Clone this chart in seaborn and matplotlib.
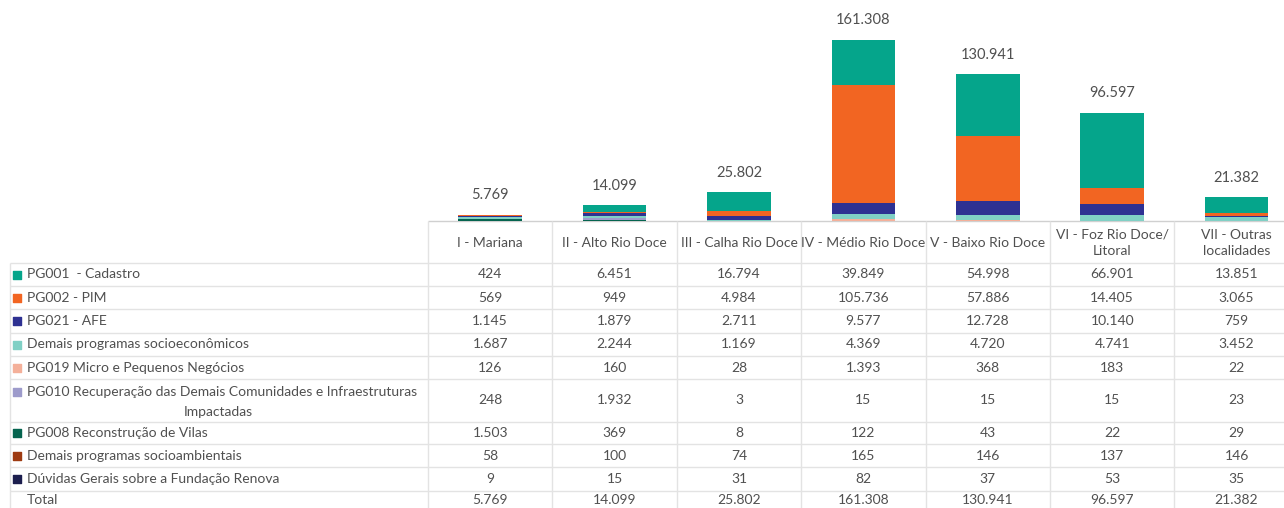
import numpy as np
import pandas as pd
import matplotlib
matplotlib.use('Agg')
import matplotlib.pyplot as plt
import seaborn as sns

regioes = ['I - Mariana', 'II - Alto Rio Doce', 'III - Calha Rio Doce', 'IV - Médio Rio Doce',
           'V - Baixo Rio Doce', 'VI - Foz Rio Doce/\nLitoral', 'VII - Outras\nlocalidades']

programas = ['PG001  - Cadastro', 'PG002 - PIM', 'PG021 - AFE', 'Demais programas socioeconômicos',
             'PG019 Micro e Pequenos Negócios',
             'PG010 Recuperação das Demais Comunidades e Infraestruturas\nImpactadas',
             'PG008 Reconstrução de Vilas', 'Demais programas socioambientais',
             'Dúvidas Gerais sobre a Fundação Renova']

cadastro = [424, 6451, 16794, 39849, 54998, 66901, 13851]
pim = [569, 949, 4984, 105736, 57886, 14405, 3065]
afe = [1145, 1879, 2711, 9577, 12728, 10140, 759]
socioeco = [1687, 2244, 1169, 4369, 4720, 4741, 3452]
pg019 = [126, 160, 28, 1393, 368, 183, 22]
pg010 = [248, 1932, 3, 15, 15, 15, 23]
pg008 = [1503, 369, 8, 122, 43, 22, 29]
socioamb = [58, 100, 74, 165, 146, 137, 146]
duvidas = [9, 15, 31, 82, 37, 53, 35]
totais = [5769, 14099, 25802, 161308, 130941, 96597, 21382]

cores = ['#05A58B', '#F26522', '#2E3192', '#80D0C5', '#F4B09A', '#9D9BCB', '#05644F', '#9E3B12', '#1C1E4E']

series = [cadastro, pim, afe, socioeco, pg019, pg010, pg008, socioamb, duvidas]


def fmt(v):
    return f'{v:,}'.replace(',', '.')


sns.set_style('white')
plt.rcParams['font.family'] = ['Lato', 'DejaVu Sans']
cinza = '#505050'
linha = '#E3E3E3'
fs = 10

W, H = 1284, 508
fig = plt.figure(figsize=(12.84, 5.08), dpi=100)

# tabela (coordenadas em pixels)
tab = fig.add_axes([0, 0, 1, 1])
tab.set_xlim(0, W)
tab.set_ylim(H, 0)
tab.axis('off')

x0 = 428
cw = 124.4
col_x = [x0 + i * cw for i in range(8)]
row_y = [263, 286, 309, 333, 356, 379, 422, 444, 467, 491, 514]
topo = 221

tab.hlines(topo, x0, W, color='#D0D0D0', lw=1)
for y in row_y:
    tab.hlines(y, 10, W, color=linha, lw=1)
tab.vlines(10, row_y[0], H, color=linha, lw=1)
for x in col_x:
    tab.vlines(x, topo, H, color=linha, lw=1)

for i, r in enumerate(regioes):
    tab.text(col_x[i] + cw / 2, (topo + row_y[0]) / 2 + 1, r, ha='center', va='center',
             fontsize=fs, color=cinza, linespacing=1.45)

for j, (p, vals) in enumerate(zip(programas, series)):
    yc = (row_y[j] + row_y[j + 1]) / 2
    if '\n' in p:
        a, b = p.split('\n')
        tab.text(27, yc - 9, a, ha='left', va='center', fontsize=fs, color=cinza)
        tab.text(218, yc + 11, b, ha='center', va='center', fontsize=fs, color=cinza)
        ym = yc - 9
    else:
        tab.text(27, yc, p, ha='left', va='center', fontsize=fs, color=cinza)
        ym = yc
    tab.scatter([17], [ym], marker='s', s=38, color=cores[j])
    for i, v in enumerate(vals):
        tab.text(col_x[i] + cw / 2, yc, fmt(v), ha='center', va='center', fontsize=fs, color=cinza)

yc = (row_y[-2] + row_y[-1]) / 2 - 3
tab.text(27, yc, 'Total', ha='left', va='center', fontsize=fs, color=cinza)
for i, v in enumerate(totais):
    tab.text(col_x[i] + cw / 2, yc, fmt(v), ha='center', va='center', fontsize=fs, color=cinza)

# barras empilhadas
ax = fig.add_axes([x0 / W, 1 - topo / H, 7 * cw / W, topo / H])
df = pd.DataFrame({'regiao': regioes})
base = np.zeros(len(regioes))
for nome, vals, cor in reversed(list(zip(programas, series, cores))):
    sns.barplot(x=df['regiao'], y=vals, color=cor, width=0.51, bottom=base, ax=ax,
                linewidth=0, saturation=1)
    base = base + np.array(vals)

for i, t in enumerate(totais):
    ax.annotate(fmt(t), (i, base[i]), xytext=(0, 9), textcoords='offset points',
                ha='center', va='bottom', fontsize=10.5, color=cinza)

ax.set_xlim(-0.5, 6.5)
ax.set_ylim(0, 161308 * topo / 181)
ax.axis('off')

fig.savefig('out.png', dpi=100)
